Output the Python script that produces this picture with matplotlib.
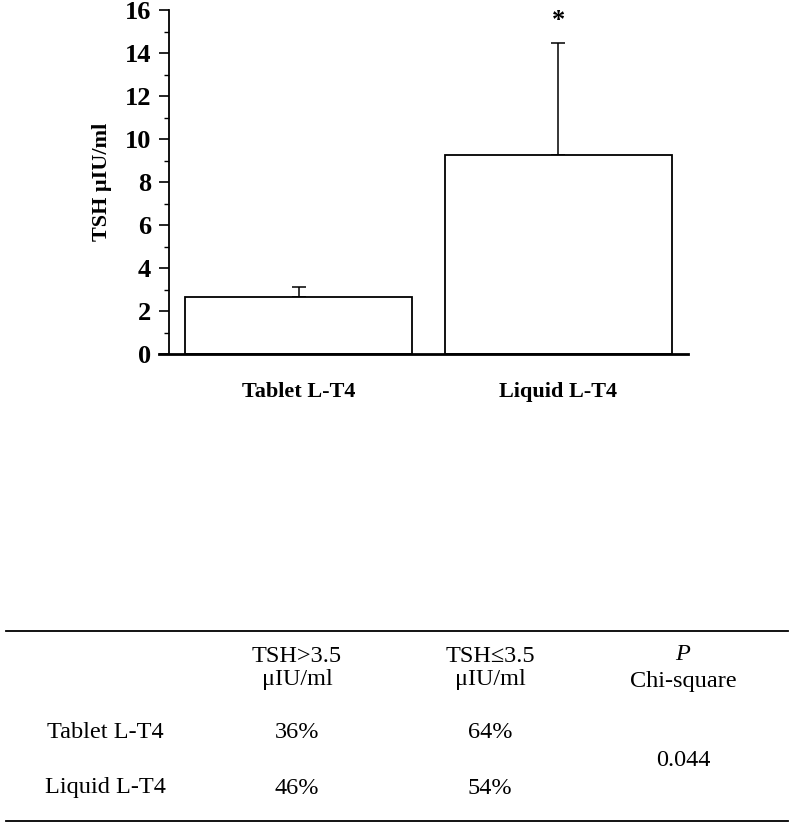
import matplotlib.pyplot as plt
from matplotlib.ticker import MultipleLocator

groups = ["Tablet L-T4", "Liquid L-T4"]
tsh_mean = [2.65, 9.25]
tsh_sd = [0.45, 5.2]
star = "*"

col_headers = ["TSH>3.5\nμIU/ml", "TSH≤3.5\nμIU/ml", "Chi-square"]
row_labels = ["Tablet L-T4", "Liquid L-T4"]
pct_above = ["36%", "46%"]
pct_below = ["64%", "54%"]
p_value = "0.044"

serif = ["Liberation Serif", "DejaVu Serif"]
plt.rcParams['font.family'] = serif

fig = plt.figure(figsize=(7.94, 8.34), dpi=100)
ax = fig.add_axes([169 / 794, 1 - 354 / 834, (688 - 169) / 794, (354 - 10) / 834])

x = range(len(groups))
ax.bar(x, tsh_mean, width=0.873, color="white", edgecolor="black", linewidth=1.3, zorder=2)
ax.errorbar(x, tsh_mean, yerr=[[0, 0], tsh_sd], fmt="none", ecolor="black",
            elinewidth=1.1, capsize=5, capthick=1.1, zorder=1)
ax.text(1, tsh_mean[1] + tsh_sd[1] + 0.55, star, ha="center", va="bottom",
        fontsize=19, fontweight="bold")

ax.set_xlim(-0.5, 1.5)
ax.set_ylim(0, 16)
ax.yaxis.set_major_locator(MultipleLocator(2))
ax.yaxis.set_minor_locator(MultipleLocator(1))
ax.set_xticks(list(x))
ax.set_xticklabels(groups, fontsize=16, fontweight="bold")
ax.tick_params(axis="x", length=0, pad=20)
ax.tick_params(axis="y", which="major", length=7, width=1.2, labelsize=19, pad=6)
ax.tick_params(axis="y", which="minor", length=3.5, width=1.0)
for lab in ax.get_yticklabels():
    lab.set_fontweight("bold")
ax.spines["top"].set_visible(False)
ax.spines["right"].set_visible(False)
ax.spines["left"].set_linewidth(1.3)
ax.spines["bottom"].set_linewidth(2.0)
ax.spines["bottom"].set_bounds(-0.54, 1.5)
ax.set_ylabel("TSH μIU/ml", fontsize=16, fontweight="bold")
ax.yaxis.set_label_coords(-0.11, 0.5)

# table below the chart, laid out in pixel coordinates
tab = fig.add_axes([0, 0, 1, 1], zorder=-1)
tab.set_xlim(0, 794)
tab.set_ylim(834, 0)
tab.axis("off")
tab.plot([6, 788], [631, 631], color="black", linewidth=1.3)
tab.plot([6, 788], [821, 821], color="black", linewidth=1.3)

fs = 17.5
col_x = [105, 297, 490, 683]
row_y = [732, 788]
tab.text(col_x[1], 668, col_headers[0], ha="center", va="center", fontsize=fs, linespacing=1.15)
tab.text(col_x[2], 668, col_headers[1], ha="center", va="center", fontsize=fs, linespacing=1.15)
tab.text(col_x[3], 655, "P", ha="center", va="center", fontsize=fs, style="italic")
tab.text(col_x[3], 681, col_headers[2], ha="center", va="center", fontsize=fs)
for i, r in enumerate(row_labels):
    tab.text(col_x[0], row_y[i], r, ha="center", va="center", fontsize=fs)
    tab.text(col_x[1], row_y[i], pct_above[i], ha="center", va="center", fontsize=fs)
    tab.text(col_x[2], row_y[i], pct_below[i], ha="center", va="center", fontsize=fs)
tab.text(col_x[3], 760, p_value, ha="center", va="center", fontsize=fs)

fig.savefig("out.png", dpi=100)
